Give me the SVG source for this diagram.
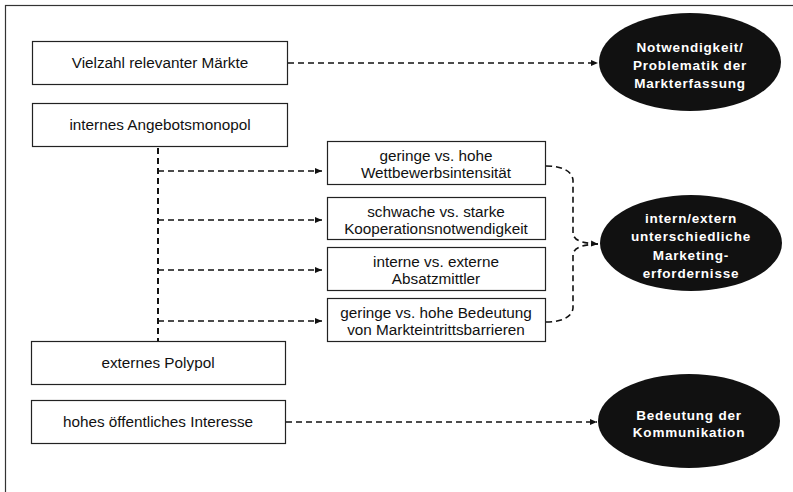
<svg xmlns="http://www.w3.org/2000/svg" width="793" height="492" viewBox="0 0 793 492">
<style>
.box{fill:#fff;stroke:#222;stroke-width:1.2}
.t{font-family:"Liberation Sans",Arial,sans-serif;font-size:15.3px;fill:#111;text-anchor:middle}
.el{fill:#111}
.et{font-family:"Liberation Sans",Arial,sans-serif;font-size:13.5px;font-weight:bold;fill:#fff;text-anchor:middle;letter-spacing:0.8px}
.dash{fill:none;stroke:#111;stroke-width:1.6;stroke-dasharray:6 4}
</style>
<defs>
<marker id="ah" markerWidth="8" markerHeight="8" refX="7" refY="4" orient="auto" markerUnits="userSpaceOnUse">
<path d="M0,1 L7,4 L0,7 Z" fill="#111"/>
</marker>
</defs>
<rect x="5.5" y="5.5" width="800" height="500" fill="#fff" stroke="#333" stroke-width="1.2"/>

<g id="connectors">
<line class="dash" x1="288" y1="63" x2="598" y2="63" marker-end="url(#ah)"/>
<line class="dash" x1="286" y1="422" x2="597" y2="422" marker-end="url(#ah)"/>
<line class="dash" x1="158" y1="148" x2="158" y2="341" style="stroke-width:2"/>
<line class="dash" x1="158" y1="171" x2="322" y2="171" marker-end="url(#ah)"/>
<line class="dash" x1="158" y1="220" x2="322" y2="220" marker-end="url(#ah)"/>
<line class="dash" x1="158" y1="270" x2="322" y2="270" marker-end="url(#ah)"/>
<line class="dash" x1="158" y1="321" x2="322" y2="321" marker-end="url(#ah)"/>
<path class="dash" d="M546,166 C560,166 572,170 573,180 L573,232 C573,240 580,243 598,244" marker-end="url(#ah)"/>
<path class="dash" d="M546,322 C560,322 572,318 573,308 L573,256 C573,248 580,245 598,244"/>
</g>

<g id="n1"><rect class="box" x="32.5" y="41.5" width="255" height="43"/><text class="t" x="160" y="68">Vielzahl relevanter Märkte</text></g>
<g id="n2"><rect class="box" x="32.5" y="103.5" width="255" height="43"/><text class="t" x="160" y="130">internes Angebotsmonopol</text></g>
<g id="n3"><rect class="box" x="31.5" y="341.5" width="254" height="43"/><text class="t" x="158" y="368">externes Polypol</text></g>
<g id="n4"><rect class="box" x="31.5" y="400.5" width="254" height="43"/><text class="t" x="158" y="427">hohes öffentliches Interesse</text></g>

<g id="m1"><rect class="box" x="327.5" y="141.5" width="218" height="43"/><text class="t" x="436" y="161">geringe vs. hohe</text><text class="t" x="436" y="178">Wettbewerbsintensität</text></g>
<g id="m2"><rect class="box" x="327.5" y="197.5" width="218" height="42"/><text class="t" x="436" y="217">schwache vs. starke</text><text class="t" x="436" y="234">Kooperationsnotwendigkeit</text></g>
<g id="m3"><rect class="box" x="327.5" y="247.5" width="218" height="43"/><text class="t" x="436" y="267">interne vs. externe</text><text class="t" x="436" y="284">Absatzmittler</text></g>
<g id="m4"><rect class="box" x="327.5" y="298.5" width="218" height="43"/><text class="t" x="436" y="318">geringe vs. hohe Bedeutung</text><text class="t" x="436" y="335">von Markteintrittsbarrieren</text></g>

<g id="e1"><ellipse class="el" cx="690" cy="62" rx="91" ry="49"/><text class="et" x="690" y="52">Notwendigkeit/</text><text class="et" x="690" y="70">Problematik der</text><text class="et" x="690" y="88">Markterfassung</text></g>
<g id="e2"><ellipse class="el" cx="691" cy="243" rx="91" ry="48"/><text class="et" x="691" y="223">intern/extern</text><text class="et" x="691" y="241">unterschiedliche</text><text class="et" x="691" y="260">Marketing-</text><text class="et" x="691" y="278">erfordernisse</text></g>
<g id="e3"><ellipse class="el" cx="689" cy="421" rx="91" ry="47"/><text class="et" x="689" y="420">Bedeutung der</text><text class="et" x="689" y="437">Kommunikation</text></g>
</svg>
